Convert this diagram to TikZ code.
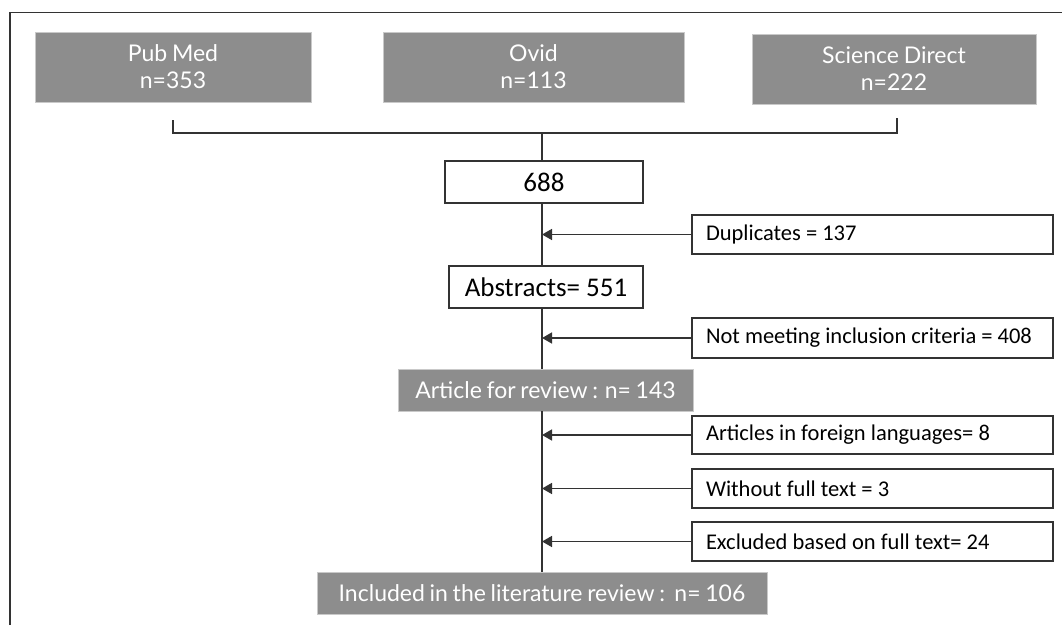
\documentclass[tikz,border=0pt]{standalone}
\usepackage{fontspec}
\setmainfont{Carlito}
\newfontfamily\latofont[WordSpace=0.8]{Lato}
\usetikzlibrary{arrows.meta}
\definecolor{boxgray}{HTML}{8D8D8D}
\definecolor{edgegray}{HTML}{C9C9C9}
\definecolor{linedark}{HTML}{333333}
\newcommand\sidetxt[1]{\makebox[333pt][l]{#1}}
\tikzset{
  graybox/.style={fill=boxgray, draw=edgegray, line width=0.8pt, text=white,
    font=\latofont\fontsize{23}{27}\selectfont, align=center, inner sep=0pt},
  whitebox/.style={fill=white, draw=linedark, line width=1.5pt, text=black,
    font=\fontsize{27}{30}\selectfont, inner sep=0pt},
  sidebox/.style={fill=white, draw=linedark, line width=1.5pt, text=black,
    font=\fontsize{22.5}{26}\selectfont, inner xsep=14pt, inner ysep=0pt,
    minimum height=39pt},
  conn/.style={draw=linedark, line width=1.5pt},
  arr/.style={draw=linedark, line width=1.5pt, -{Triangle[length=10pt,width=11pt]}}
}
\begin{document}
\begin{tikzpicture}[x=1pt,y=-1pt]
\useasboundingbox (0,0) rectangle (1062,625);
% frame
\draw[conn] (10,625) -- (10,12.5) -- (1062,12.5);
% sources
\node[graybox, minimum width=276pt, minimum height=70pt] (pub) at (173,67) {Pub Med\\n=353};
\node[graybox, minimum width=301pt, minimum height=70pt] (ovid) at (533.5,67) {Ovid\\n=113};
\node[graybox, minimum width=284pt, minimum height=70pt] (sci) at (894,69) {Science Direct\\n=222};
% flow boxes
\node[whitebox, minimum width=198pt, minimum height=42pt] (tot) at (544,182) {688};
\node[whitebox, minimum width=194pt, minimum height=42pt] (abs) at (546,287) {Abstracts= 551};
\node[graybox, minimum width=295pt, minimum height=42pt] (art) at (545.5,390) {Article for review : n= 143};
\node[graybox, minimum width=450pt, minimum height=42pt] (inc) at (542,593) {Included in the literature review :\ \ n= 106};
% side boxes
\node[sidebox] (dup) at (872.5,234.5) {\sidetxt{Duplicates = 137}};
\node[sidebox, minimum height=40pt] (notm) at (872.5,338) {\sidetxt{Not meeting inclusion criteria = 408}};
\node[sidebox, minimum height=38pt] (forl) at (872.5,435) {\sidetxt{Articles in foreign languages= 8}};
\node[sidebox] (wo) at (872.5,488.5) {\sidetxt{Without full text = 3}};
\node[sidebox] (exc) at (872.5,541.5) {\sidetxt{Excluded based on full text= 24}};
% bracket
\coordinate (bl) at (173,120);
\coordinate (br) at (897,118);
\coordinate (jn) at (542,133);
\draw[conn] (bl) |- (br |- jn) -- (br);
\draw[conn] (jn) -- (jn |- tot.north);
% spine
\draw[conn] (tot.south -| jn) -- (abs.north -| jn);
\draw[conn] (abs.south -| jn) -- (art.north -| jn);
\draw[conn] (art.south -| jn) -- (inc.north -| jn);
% exclusion arrows
\draw[arr] (dup.west) -- (dup.west -| jn);
\draw[arr] (notm.west) -- (notm.west -| jn);
\draw[arr] (forl.west) -- (forl.west -| jn);
\draw[arr] (wo.west) -- (wo.west -| jn);
\draw[arr] (exc.west) -- (exc.west -| jn);
\end{tikzpicture}
\end{document}
